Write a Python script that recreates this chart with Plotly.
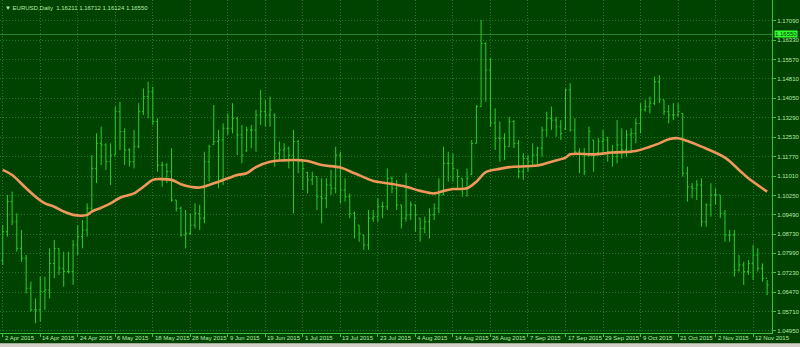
import plotly.graph_objects as go
import pandas as pd

# ---- data ----
dates = pd.bdate_range("2015-04-02", periods=164)
bar_index = list(range(164))

open_ = [1.0770,1.0883,1.1001,1.0922,1.0818,1.0779,1.0662,1.0577,1.0577,1.0649,
         1.0655,1.0759,1.0818,1.0740,1.0727,1.0727,1.0831,1.0864,1.0890,1.0975,
         1.1131,1.1229,1.1223,1.1157,1.1183,1.1353,1.1275,1.1203,1.1157,1.1216,
         1.1353,1.1412,1.1431,1.1314,1.1144,1.1144,1.1118,1.1007,1.0975,1.0870,
         1.0877,1.0909,1.0955,1.0936,1.1157,1.1225,1.1236,1.1242,1.1288,1.1288,
         1.1327,1.1262,1.1200,1.1281,1.1281,1.1340,1.1353,1.1340,1.1340,1.1190,
         1.1203,1.1210,1.1183,1.1236,1.1157,1.1115,1.1086,1.1099,1.1020,1.1014,
         1.1066,1.1053,1.1183,1.1046,1.1020,1.0955,1.0909,1.0870,1.0831,1.0936,
         1.0942,1.0981,1.0981,1.1092,1.1053,1.0988,1.0936,1.0949,1.0988,1.0936,
         1.0896,1.0922,1.0949,1.0975,1.1027,1.1151,1.1151,1.1125,1.1092,1.1053,
         1.1108,1.1229,1.1373,1.1620,1.1516,1.1309,1.1249,1.1249,1.1216,1.1314,
         1.1229,1.1118,1.1170,1.1157,1.1183,1.1210,1.1281,1.1327,1.1320,1.1294,
         1.1285,1.1438,1.1281,1.1196,1.1190,1.1180,1.1242,1.1192,1.1236,1.1242,
         1.1196,1.1177,1.1223,1.1203,1.1262,1.1268,1.1307,1.1360,1.1373,1.1386,
         1.1470,1.1399,1.1353,1.1340,1.1340,1.1346,1.1112,1.1059,1.1053,1.1066,
         1.0922,1.0988,1.1027,1.1027,1.0955,1.0870,1.0870,1.0733,1.0753,1.0727,
         1.0759,1.0792,1.0740,1.0701]
high = [1.0909,1.1027,1.1040,1.0955,1.0890,1.0792,1.0688,1.0622,1.0707,1.0707,
        1.0818,1.0851,1.0818,1.0805,1.0805,1.0851,1.0909,1.0929,1.0994,1.1183,
        1.1268,1.1294,1.1229,1.1229,1.1373,1.1392,1.1288,1.1210,1.1281,1.1386,
        1.1444,1.1470,1.1451,1.1327,1.1157,1.1151,1.1210,1.1007,1.0981,1.0968,
        1.0955,1.0994,1.0988,1.1196,1.1223,1.1379,1.1281,1.1307,1.1346,1.1386,
        1.1333,1.1301,1.1294,1.1301,1.1360,1.1438,1.1399,1.1412,1.1346,1.1236,
        1.1229,1.1216,1.1281,1.1242,1.1157,1.1118,1.1118,1.1099,1.1092,1.1092,
        1.1125,1.1216,1.1196,1.1092,1.1033,1.0962,1.0909,1.0870,1.0968,1.0968,
        1.1014,1.1001,1.1131,1.1099,1.1086,1.0988,1.1112,1.1001,1.0988,1.0936,
        1.0942,1.0975,1.0994,1.1092,1.1216,1.1196,1.1190,1.1125,1.1092,1.1131,
        1.1242,1.1379,1.1712,1.1624,1.1562,1.1366,1.1314,1.1268,1.1333,1.1320,
        1.1242,1.1190,1.1183,1.1229,1.1216,1.1294,1.1353,1.1373,1.1333,1.1320,
        1.1444,1.1464,1.1327,1.1210,1.1210,1.1294,1.1242,1.1249,1.1281,1.1255,
        1.1223,1.1320,1.1288,1.1281,1.1288,1.1327,1.1386,1.1399,1.1412,1.1490,
        1.1496,1.1399,1.1379,1.1386,1.1386,1.1346,1.1138,1.1073,1.1086,1.1092,
        1.0994,1.1073,1.1053,1.1027,1.0968,1.0890,1.0890,1.0792,1.0766,1.0772,
        1.0831,1.0818,1.0759,1.0694]
low = [1.0753,1.0864,1.0909,1.0805,1.0766,1.0642,1.0570,1.0525,1.0531,1.0577,
       1.0622,1.0701,1.0714,1.0668,1.0720,1.0675,1.0792,1.0818,1.0864,1.0962,
       1.1073,1.1144,1.1125,1.1066,1.1183,1.1203,1.1144,1.1138,1.1131,1.1210,
       1.1340,1.1327,1.1301,1.1118,1.1059,1.1073,1.1001,1.0962,1.0864,1.0818,
       1.0870,1.0896,1.0890,1.0916,1.1079,1.1223,1.1053,1.1066,1.1262,1.1268,
       1.1183,1.1151,1.1196,1.1210,1.1196,1.1301,1.1294,1.1294,1.1138,1.1164,
       1.1157,1.1131,1.0955,1.1112,1.1046,1.1033,1.1066,1.0968,1.0916,1.0975,
       1.1027,1.1033,1.0994,1.1001,1.0936,1.0857,1.0844,1.0812,1.0812,1.0922,
       1.0922,1.0936,1.0968,1.1033,1.0968,1.0896,1.0922,1.0929,1.0883,1.0844,
       1.0877,1.0857,1.0929,1.0955,1.1027,1.1079,1.1079,1.1053,1.1020,1.1020,
       1.1105,1.1229,1.1373,1.1392,1.1294,1.1203,1.1157,1.1164,1.1216,1.1210,
       1.1092,1.1086,1.1118,1.1138,1.1144,1.1177,1.1255,1.1281,1.1255,1.1242,
       1.1281,1.1275,1.1190,1.1112,1.1105,1.1177,1.1118,1.1190,1.1183,1.1157,
       1.1138,1.1151,1.1170,1.1177,1.1190,1.1229,1.1268,1.1353,1.1346,1.1379,
       1.1386,1.1340,1.1307,1.1320,1.1333,1.1099,1.1001,1.1014,1.1007,1.0903,
       1.0903,1.0942,1.0988,1.0936,1.0844,1.0844,1.0707,1.0727,1.0675,1.0714,
       1.0694,1.0727,1.0688,1.0635]
close = [1.0883,1.1001,1.0922,1.0818,1.0779,1.0662,1.0577,1.0577,1.0649,1.0655,
         1.0759,1.0818,1.0740,1.0727,1.0727,1.0831,1.0864,1.0890,1.0975,1.1131,
         1.1229,1.1223,1.1157,1.1183,1.1353,1.1275,1.1203,1.1157,1.1216,1.1353,
         1.1412,1.1431,1.1314,1.1144,1.1144,1.1118,1.1007,1.0975,1.0870,1.0877,
         1.0909,1.0955,1.0936,1.1157,1.1216,1.1236,1.1242,1.1288,1.1288,1.1327,
         1.1262,1.1183,1.1281,1.1281,1.1340,1.1353,1.1340,1.1360,1.1190,1.1203,
         1.1210,1.1183,1.1236,1.1157,1.1131,1.1086,1.1099,1.1020,1.1014,1.1066,
         1.1053,1.1183,1.1046,1.1020,1.0955,1.0936,1.0877,1.0831,1.0936,1.0942,
         1.0981,1.0981,1.1092,1.1053,1.0988,1.0936,1.0949,1.0988,1.0949,1.0896,
         1.0922,1.0949,1.0975,1.1027,1.1151,1.1151,1.1131,1.1099,1.1053,1.1092,
         1.1229,1.1373,1.1620,1.1516,1.1309,1.1249,1.1249,1.1216,1.1314,1.1229,
         1.1118,1.1170,1.1157,1.1183,1.1210,1.1281,1.1327,1.1320,1.1294,1.1268,
         1.1438,1.1281,1.1196,1.1190,1.1118,1.1275,1.1183,1.1236,1.1242,1.1196,
         1.1177,1.1223,1.1203,1.1262,1.1268,1.1307,1.1360,1.1373,1.1386,1.1470,
         1.1399,1.1353,1.1340,1.1340,1.1353,1.1112,1.1059,1.1053,1.1066,1.0922,
         1.0988,1.1027,1.1027,1.0955,1.0870,1.0870,1.0733,1.0753,1.0727,1.0759,
         1.0792,1.0740,1.0701,1.0675]

ma_bar = [0,2,5,7,9,11,13,15,17,18,19,21,23,25,27,28,30,32,34,36,38,40,42,44,46,48,
          50,52,54,57,62,65,68,72,75,79,82,86,89,92,94,96,99,101,103,106,108,114,117,
          120,121,126,130,135,138,140,142,144,146,149,154,157,159,163]
ma_val = [1.1125,1.1105,1.1053,1.1020,1.0994,1.0981,1.0962,1.0949,1.0946,1.0949,1.0962,
          1.0977,1.0994,1.1016,1.1027,1.1033,1.1059,1.1086,1.1089,1.1086,1.1069,1.1059,
          1.1056,1.1066,1.1079,1.1092,1.1105,1.1112,1.1136,1.1157,1.1164,1.1160,1.1144,
          1.1134,1.1112,1.1082,1.1073,1.1059,1.1043,1.1033,1.1043,1.1050,1.1053,1.1079,
          1.1116,1.1129,1.1136,1.1142,1.1157,1.1173,1.1186,1.1186,1.1193,1.1199,1.1216,
          1.1229,1.1245,1.1249,1.1238,1.1216,1.1173,1.1125,1.1092,1.1040]

price_ticks = [1.17090,1.16330,1.15570,1.14810,1.14050,1.13290,1.12530,1.11770,1.11010,
               1.10250,1.09490,1.08730,1.07990,1.07230,1.06470,1.05710,1.04950]
price_labels = ["%.5f" % v for v in price_ticks]

date_tick_bars = list(range(0, 161, 8))
date_tick_labels = ["2 Apr 2015","14 Apr 2015","24 Apr 2015","6 May 2015","18 May 2015",
                    "28 May 2015","9 Jun 2015","19 Jun 2015","1 Jul 2015","13 Jul 2015",
                    "23 Jul 2015","4 Aug 2015","14 Aug 2015","26 Aug 2015","7 Sep 2015",
                    "17 Sep 2015","29 Sep 2015","9 Oct 2015","21 Oct 2015","2 Nov 2015",
                    "12 Nov 2015"]

bid_price = 1.16550
header = "\u25BC EURUSD,Daily  1.16211 1.16712 1.16124 1.16550"

# ---- style ----
BG = "#004200"
GRID = "#237a23"
AXIS = "#3fbf3f"
BAR = "#2ccc2c"
MA = "#f0985a"
TXT = "#b4eaa4"
FONT = "Liberation Sans"

fig = go.Figure()
fig.add_trace(go.Ohlc(
    x=bar_index, open=open_, high=high, low=low, close=close,
    increasing_line_color=BAR, decreasing_line_color=BAR,
    line_width=1, tickwidth=0.3, showlegend=False, hoverinfo="skip"))
fig.add_trace(go.Scatter(
    x=ma_bar, y=ma_val, mode="lines", line=dict(color=MA, width=2.6, shape="spline"),
    showlegend=False, hoverinfo="skip"))

fig.add_shape(type="line", xref="paper", x0=0, x1=1, yref="y", y0=bid_price, y1=bid_price,
              line=dict(color="#2a7f2a", width=1), layer="below")
# window frame strip at the bottom
fig.add_shape(type="rect", xref="paper", x0=-0.01, x1=1.05, yref="paper", y0=-0.06, y1=-0.031,
              fillcolor="#d4d0c8", line=dict(width=0), layer="above")

annotations = []
for b, t in zip(date_tick_bars, date_tick_labels):
    annotations.append(dict(x=b, xref="x", y=0, yref="paper", yanchor="top", xanchor="left",
                            text=t, showarrow=False, xshift=0, yshift=0,
                            font=dict(family=FONT, size=6, color=TXT)))
annotations.append(dict(x=1, xref="paper", y=bid_price, yref="y", xanchor="left", yanchor="middle",
                        text="1.16550", showarrow=False, bgcolor="#33ff33", borderpad=0, xshift=2,
                        font=dict(family=FONT, size=6, color="#003300")))
annotations.append(dict(x=0, xref="paper", y=1, yref="paper", xanchor="left", yanchor="top",
                        text=header, showarrow=False, xshift=3, yshift=-3,
                        font=dict(family=FONT, size=6, color=TXT)))

fig.update_layout(
    width=800, height=347,
    margin=dict(l=0, r=28, t=0, b=14),
    paper_bgcolor=BG, plot_bgcolor=BG,
    annotations=annotations,
    xaxis=dict(range=[-0.58, 164.03], rangeslider=dict(visible=False),
               tickmode="array", tickvals=date_tick_bars, showticklabels=False,
               ticks="outside", ticklen=3, tickcolor=AXIS,
               showgrid=True, gridcolor=GRID, griddash="1px,2px", gridwidth=1,
               zeroline=False, showline=True, linecolor=AXIS, linewidth=1, mirror=True),
    yaxis=dict(range=[1.04867, 1.17900], side="right",
               tickmode="array", tickvals=price_ticks, ticktext=price_labels,
               ticks="outside", ticklen=3, tickcolor=AXIS,
               tickfont=dict(family=FONT, size=6, color=TXT),
               showgrid=True, gridcolor=GRID, griddash="1px,2px", gridwidth=1,
               zeroline=False, showline=True, linecolor=AXIS, linewidth=1, mirror=True),
)

fig.write_html("out.html")
